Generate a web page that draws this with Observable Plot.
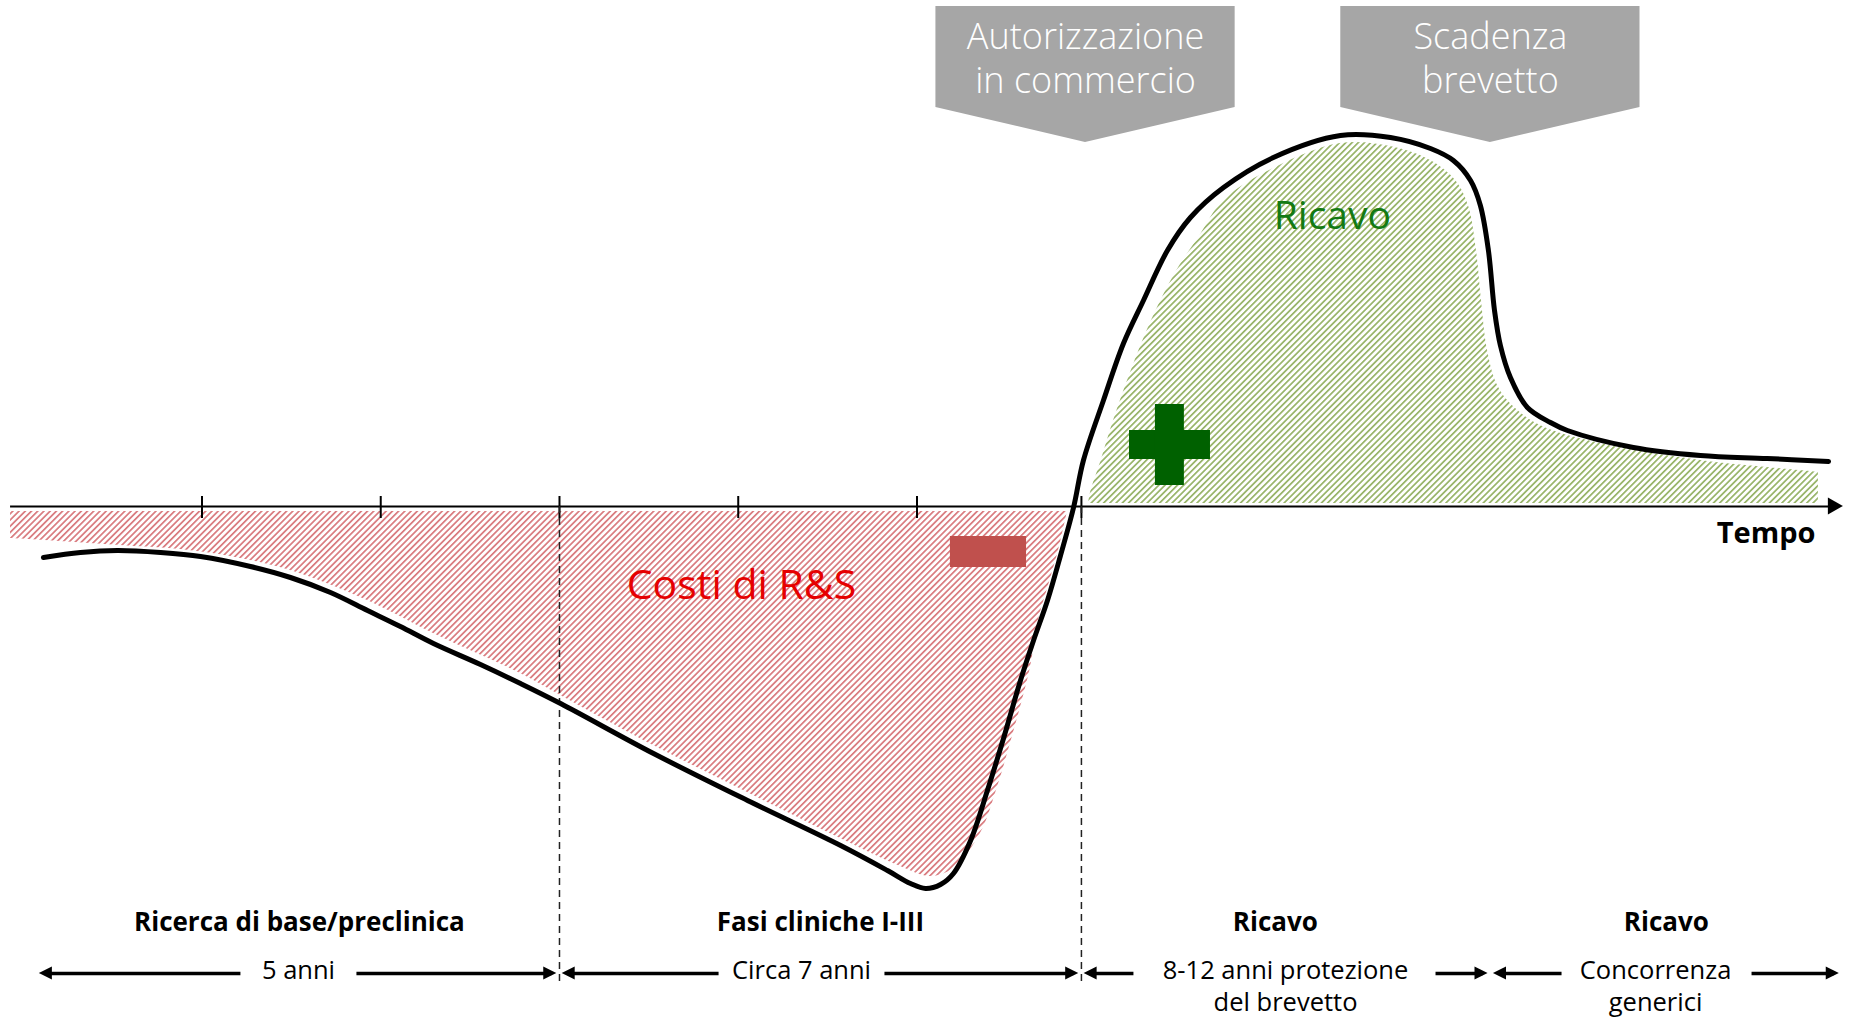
<!DOCTYPE html>
<html>
<head>
<meta charset="utf-8">
<script src="https://cdn.jsdelivr.net/npm/d3@7"></script>
<script src="https://cdn.jsdelivr.net/npm/@observablehq/plot@0.6"></script>
<style>
  html, body { margin: 0; padding: 0; background: #fff; overflow: hidden; }
  #chart svg { display: block; }
</style>
</head>
<body>
<div id="chart"></div>
<script>
// ---------------- DATA (time in arbitrary units, cash flow in arbitrary units) ----------------
// Cumulative cash-flow curve (black line)
const curveTime = [1.13,3.20,5.27,7.68,9.92,12.71,14.95,17.19,19.26,21.10,22.95,25.58,27.82,30.06,35.26,40.52,45.73,48.35,49.64,50.48,51.32,52.04,53.00,53.94,54.84,55.79,56.52,57.30,58.03,58.76,59.31,60.43,61.55,62.67,64.01,65.30,67.15,69.94,73.69,76.49,78.73,80.01,80.97,81.52,81.97,82.31,82.64,83.20,84.15,85.44,86.39,90.08,93.83,97.57,101.0];
const curveValue = [-12.75,-11.5,-11,-11.5,-12.5,-15,-17.75,-21.5,-26,-30,-34.25,-39.5,-44.25,-49.25,-61.75,-73.5,-84.75,-91,-94.25,-95.5,-94.5,-91.75,-83.5,-71,-58,-43.5,-33.5,-23.5,-12.25,-0.25,11.5,26.5,40.75,51.5,64,72.25,79.75,87.25,92.75,92.25,89.5,86.5,81.5,75.25,64,49,40.25,32.25,24.75,21,19,14.75,12.75,12,11.25];

// Hatched "R&S costs" region: lower edge
const costTime = [-0.71,2.08,5.44,8.80,11.60,14.95,19.26,22.95,27.82,30.06,35.26,40.52,45.73,49.08,50.76,52.04,53.55,54.50,55.23,55.79,56.35,56.80,57.36,57.92,58.42];
const costValue = [-8,-8.75,-9.75,-10.75,-12.5,-16,-23.5,-31.75,-41.75,-47.25,-59.75,-71.5,-83,-90,-92.5,-90.5,-81.75,-70.25,-59.25,-50.25,-40.25,-28.5,-19.75,-11,-1.25];

// Hatched "revenue" region: upper edge
const revenueTime = [59.6,59.71,60.27,61.0,61.95,63.07,64.47,65.87,67.15,69.94,73.69,76.49,78.73,80.13,80.85,81.30,81.58,81.92,82.48,83.31,84.87,88.24,93.83,97.57,100.43];
const revenueValue = [0.75,3.5,11,21.5,33.5,46,58.5,68,76.5,84.5,90.75,90,86.5,81.5,75.25,64,51.5,39,30.25,25.25,20.25,15.75,11.5,9.75,8.5];

// Axis ticks
const tickTimes = [10, 20, 30, 40, 50, 59.2];

// Phases
const phaseEdges = [0.9, 30.0, 59.2, 82.1, 101.75];
const phaseNames = ["Ricerca di base/preclinica", "Fasi cliniche I-III", "Ricavo", "Ricavo"];
const phaseDurations = ["5 anni", "Circa 7 anni", "8-12 anni protezione\ndel brevetto", "Concorrenza\ngenerici"];

// Milestones
const milestoneNames = ["Autorizzazione\nin commercio", "Scadenza\nbrevetto"];
const milestoneTimes = [59.43, 82.08];

// Region labels
const costLabel = "Costi di R&S";
const revenueLabel = "Ricavo";
const axisLabel = "Tempo";

// ---------------- LAYOUT ----------------
const armY = -116.75;              // level of the phase arrows
const durationX = [15.4, 43.54, 70.62, 91.32];
const durationGaps = [[12.15, 18.64], [38.9, 48.18], [62.11, 79.01], [86.06, 96.69]];
const pad = 0.15;

const curve = curveTime.map((t, i) => ({t, v: curveValue[i]}));
const cost = costTime.map((t, i) => ({t, v: costValue[i]}));
const revenue = revenueTime.map((t, i) => ({t, v: revenueValue[i]}));

// arrow shafts (split around duration labels)
const shafts = [];
const heads = [];
const headLen = 0.73, headHalf = 1.65;
phaseNames.forEach((_, i) => {
  const L = phaseEdges[i] + (i === 0 ? 0 : pad);
  const R = phaseEdges[i + 1] - pad;
  shafts.push({x1: L + 0.3, x2: durationGaps[i][0]});
  shafts.push({x1: durationGaps[i][1], x2: R - 0.3});
  heads.push({id: "l" + i, x: L, y1: armY, y2: armY});
  heads.push({id: "l" + i, x: L + headLen, y1: armY - headHalf, y2: armY + headHalf});
  heads.push({id: "r" + i, x: R - headLen, y1: armY - headHalf, y2: armY + headHalf});
  heads.push({id: "r" + i, x: R, y1: armY, y2: armY});
});
// main axis arrow head
const axisEnd = 101.83;
heads.push({id: "axis", x: axisEnd - 0.84, y1: -2.1, y2: 2.1});
heads.push({id: "axis", x: axisEnd, y1: 0, y2: 0});

// milestone pentagons
const boxHalf = 8.37;
const boxes = milestoneTimes.flatMap((t, i) => [
  {m: i, x: t - boxHalf, y1: 125, y2: 99.75},
  {m: i, x: t, y1: 125, y2: 91},
  {m: i, x: t + boxHalf, y1: 125, y2: 99.75}
]);

const FONT = "'Open Sans', 'Noto Sans', sans-serif";

const svg = Plot.plot({
  width: 1854,
  height: 1020,
  margin: 0,
  x: {domain: [-1.2727, 102.45], axis: null},
  y: {domain: [-128.5, 126.5], axis: null},
  style: {background: "#fff", fontFamily: FONT, overflow: "visible"},
  marks: [
    // hatched regions
    Plot.areaY(cost, {x: "t", y1: -1.25, y2: "v", fill: "url(#hatchRed)", curve: "catmull-rom"}),
    Plot.areaY(revenue, {x: "t", y1: 0.75, y2: "v", fill: "url(#hatchGreen)", curve: "catmull-rom"}),
    // minus sign
    Plot.rect([0], {x1: 51.87, x2: 56.13, y1: -7.5, y2: -15.25, fill: "#c0504d"}),
    // plus sign
    Plot.rect([0], {x1: 61.89, x2: 66.42, y1: 11.75, y2: 19, fill: "#006100"}),
    Plot.rect([0], {x1: 63.34, x2: 64.96, y1: 5.25, y2: 25.5, fill: "#006100"}),
    // time axis
    Plot.ruleY([0], {x1: -0.71, x2: axisEnd - 0.6, stroke: "#000", strokeWidth: 2}),
    Plot.ruleX(tickTimes, {y1: 2.5, y2: -3, stroke: "#000", strokeWidth: 2}),
    // phase boundaries
    Plot.ruleX([phaseEdges[1], phaseEdges[2]], {y1: 0, y2: -118.75, stroke: "#222", strokeWidth: 1.5, strokeDasharray: "7,5"}),
    // cash flow curve
    Plot.line(curve, {x: "t", y: "v", stroke: "#000", strokeWidth: 5, curve: "catmull-rom", strokeLinecap: "round"}),
    // milestone boxes
    Plot.area(boxes, {x1: "x", y1: "y1", y2: "y2", z: "m", fill: "#a6a6a6", curve: "linear"}),
    Plot.text(milestoneNames, {x: (d, i) => milestoneTimes[i], y: 122.4, text: d => d, fill: "#fff",
      fontSize: 36, fontWeight: 300, lineHeight: 1.24, lineAnchor: "top", textAnchor: "middle"}),
    // region labels
    Plot.text([costLabel], {x: 40.18, y: -23, text: d => d, fill: "#e60000", fontSize: 41, lineAnchor: "bottom", textAnchor: "middle"}),
    Plot.text([revenueLabel], {x: 73.24, y: 69.5, text: d => d, fill: "#137a13", fontSize: 39, lineAnchor: "bottom", textAnchor: "middle"}),
    Plot.text([axisLabel], {x: 100.27, y: -9, text: d => d, fill: "#000", fontSize: 29, fontWeight: "bold", lineAnchor: "bottom", textAnchor: "end"}),
    // phase arrows
    Plot.link(shafts, {x1: "x1", x2: "x2", y1: armY, y2: armY, stroke: "#000", strokeWidth: 3.5}),
    Plot.area(heads, {x1: "x", y1: "y1", y2: "y2", z: "id", fill: "#000", curve: "linear"}),
    // phase labels
    Plot.text(phaseNames, {x: (d, i) => (phaseEdges[i] + phaseEdges[i + 1]) / 2 - (i === 2 ? 0.6 : 0), y: -106, text: d => d,
      fill: "#000", fontSize: 26, fontWeight: "bold", lineAnchor: "bottom", textAnchor: "middle"}),
    Plot.text(phaseDurations, {x: (d, i) => durationX[i], y: -112.4, text: d => d,
      fill: "#000", fontSize: 25.5, lineHeight: 1.27, lineAnchor: "top", textAnchor: "middle"})
  ]
});

// hatch patterns
const defs = d3.select(svg).insert("defs", ":first-child");
function hatch(id, color) {
  const s = 4.4;
  const p = defs.append("pattern")
    .attr("id", id)
    .attr("patternUnits", "userSpaceOnUse")
    .attr("width", s).attr("height", s)
    .attr("patternTransform", "rotate(45)");
  p.append("rect").attr("x", 0).attr("y", 0).attr("width", 1.7).attr("height", s).attr("fill", color);
}
hatch("hatchRed", "#d97a7e");
hatch("hatchGreen", "#97b367");

document.getElementById("chart").appendChild(svg);
</script>
</body>
</html>
